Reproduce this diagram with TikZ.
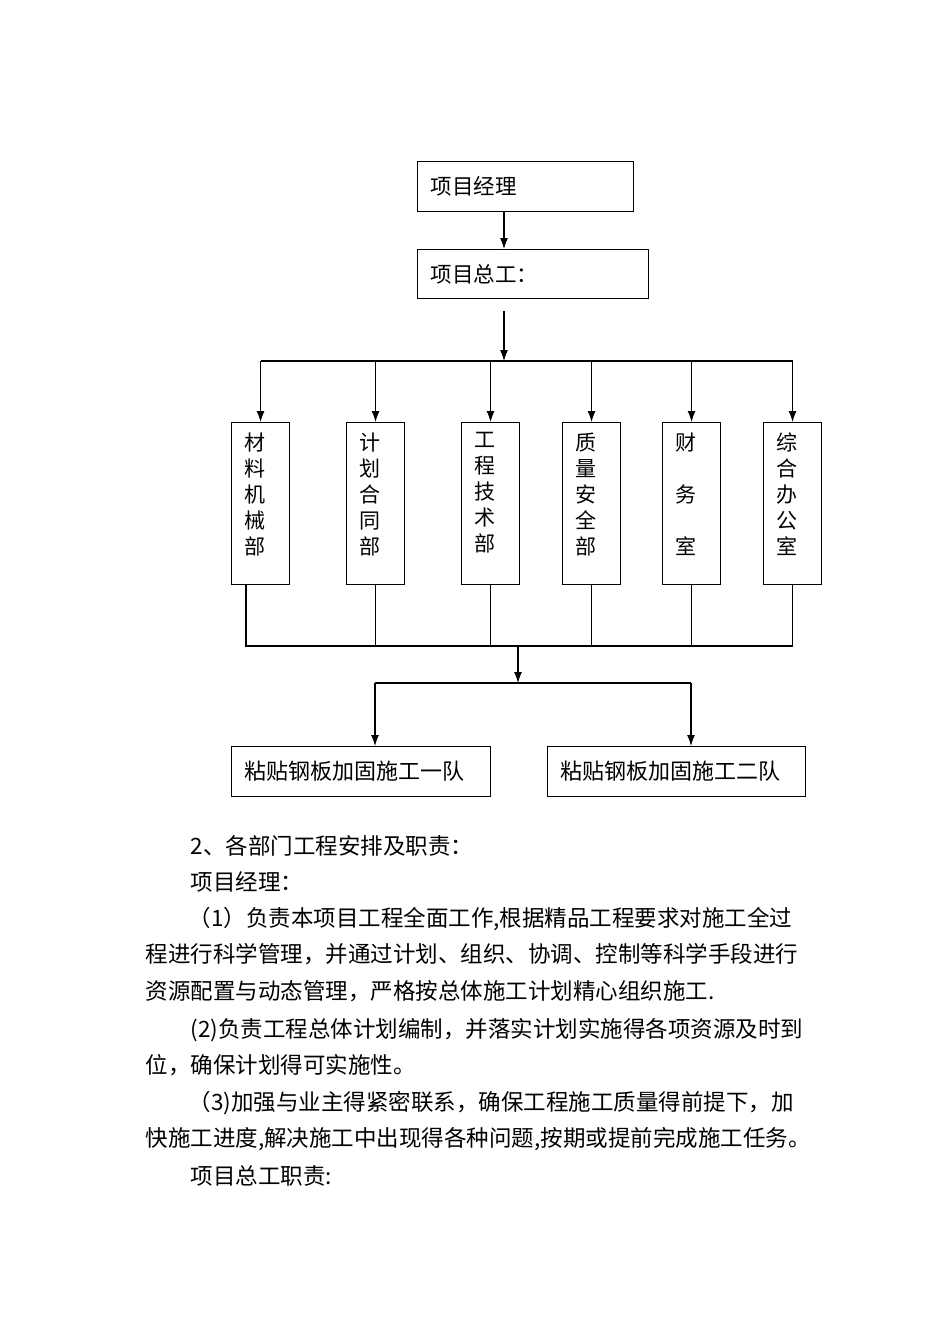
\documentclass[tikz,border=0pt]{standalone}
\usepackage{fontspec}
\setmainfont{Noto Sans CJK SC}
\usetikzlibrary{arrows.meta,positioning,calc}
\newcommand{\boxfont}{\fontsize{21.5}{26}\selectfont}
\newcommand{\deptfont}{\fontsize{21}{26}\selectfont}
\newcommand{\txtfont}{\fontsize{22.5}{36}\selectfont}

\begin{document}
\begin{tikzpicture}[x=1pt,y=-1pt,line width=1.1pt,>={Latex[length=11pt,width=8pt]},
    hbox/.style={draw,anchor=north west,inner xsep=13pt,inner ysep=0pt,align=left,minimum height=50pt,font=\boxfont},
    dept/.style={draw,anchor=north west,inner sep=0pt,minimum width=58pt,minimum height=162pt},
    vlab/.style={anchor=north,inner sep=0pt,yshift=-10pt,xshift=-6pt,align=center,font=\deptfont},
    line/.style={anchor=base west,inner sep=0pt,font=\txtfont}]
\useasboundingbox (0,0) rectangle (950,1344);

% top of the chart
\node[hbox,text width=190pt] (pm) at (417,161) {项目经理};
\node[hbox,text width=205pt,minimum height=49pt] (ce) at (417,249) {项目总工：};
\coordinate (c0) at (504,311);
\coordinate (bus1) at (504,361);
\draw[->] (pm.south -| c0) -- (ce.north -| c0);
\draw[->] (c0) -- (bus1);

% departments
\node[dept,label={[vlab]north:{材\\料\\机\\械\\部}}] (d1) at (231,422) {};
\node[dept,label={[vlab]north:{计\\划\\合\\同\\部}}] (d2) at (346,422) {};
\node[dept,label={[vlab]north:{工\\程\\技\\术\\部}}] (d3) at (461,422) {};
\node[dept,label={[vlab]north:{质\\量\\安\\全\\部}}] (d4) at (562,422) {};
\node[dept,label={[vlab]north:{财\\ \\务\\ \\室}}] (d5) at (662,422) {};
\node[dept,label={[vlab]north:{综\\合\\办\\公\\室}}] (d6) at (763,422) {};
\draw (d1.north |- bus1) -- (d6.north |- bus1);
\foreach \i in {1,...,6} \draw[->] (d\i.north |- bus1) -- (d\i.north);

% teams
\coordinate (b1) at (246,646);
\coordinate (c1) at (518,646);
\coordinate (bus2) at (518,683);
\draw (d1.south -| b1) -- (b1) -- (d6.south |- b1) -- (d6.south);
\foreach \i in {2,...,5} \draw (d\i.south) -- (d\i.south |- b1);
\draw[->] (c1) -- (bus2);
\node[hbox,text width=233pt,font=\fontsize{22}{26}\selectfont] (t1) at (231,746) {粘贴钢板加固施工一队};
\node[hbox,text width=232pt,font=\fontsize{22}{26}\selectfont] (t2) at (547,746) {粘贴钢板加固施工二队};
\coordinate (k1) at (375,683);
\coordinate (k2) at (691,683);
\draw (k1) -- (k2);
\draw[->] (k1) -- (k1 |- t1.north);
\draw[->] (k2) -- (k2 |- t2.north);

% text below
\node[line] (p0) at (190,854.6) {2、各部门工程安排及职责：};
\node[line] (p1) at (190,890.6) {项目经理：};
\node[line] (p2) at (188,926.6) {（1）负责本项目工程全面工作,根据精品工程要求对施工全过};
\node[line] (p3) at (145,962.6) {程进行科学管理，并通过计划、组织、协调、控制等科学手段进行};
\node[line] (p4) at (145,999.6) {资源配置与动态管理，严格按总体施工计划精心组织施工.};
\node[line] (p5) at (190,1037.6) {(2)负责工程总体计划编制，并落实计划实施得各项资源及时到};
\node[line] (p6) at (145,1073.6) {位，确保计划得可实施性。};
\node[line] (p7) at (188,1110.6) {（3)加强与业主得紧密联系，确保工程施工质量得前提下，加};
\node[line] (p8) at (145,1146.6) {快施工进度,解决施工中出现得各种问题,按期或提前完成施工任务。};
\node[line] (p9) at (190,1184.6) {项目总工职责:};
\end{tikzpicture}
\end{document}
